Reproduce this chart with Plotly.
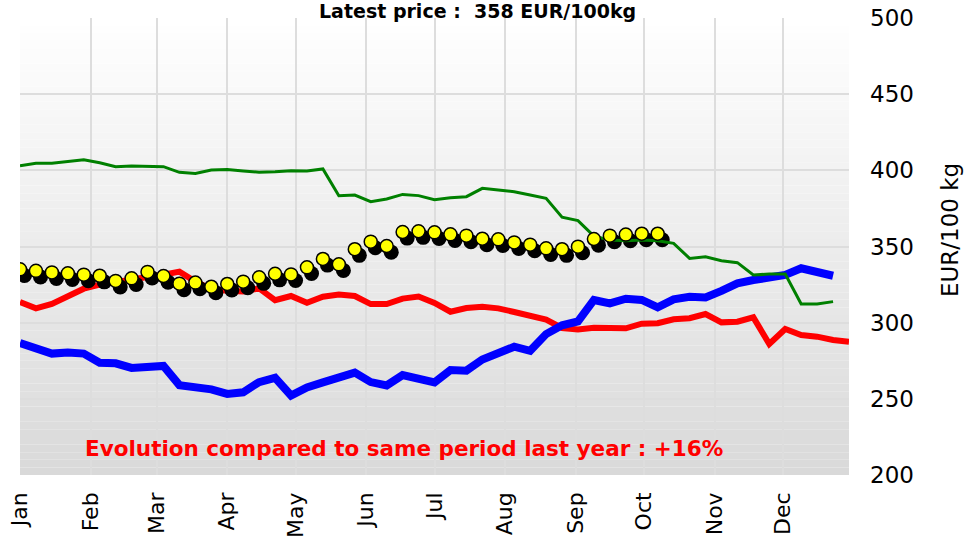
import datetime as dt
import plotly.graph_objects as go

# ---- data (weekly observations, week 1 starting 1 Jan) ----
start_date = "2024-01-01"
month_ticks = ["2024-01-01", "2024-02-01", "2024-03-01", "2024-04-01", "2024-05-01", "2024-06-01",
               "2024-07-01", "2024-08-01", "2024-09-01", "2024-10-01", "2024-11-01", "2024-12-01"]
month_labels = ["Jan", "Feb", "Mar", "Apr", "May", "Jun", "Jul", "Aug", "Sep", "Oct", "Nov", "Dec"]

current_year = [335, 334, 333, 332.4, 331.5, 330.8, 327.4, 329.1, 333.3, 330.6,
                325.6, 326.3, 323.6, 325.4, 326.9, 329.8, 332.1, 331.7, 336.3, 341.8,
                338.3, 348.2, 353.2, 350.3, 359.5, 360, 359.3, 358, 357.1, 355.1,
                354.7, 352.7, 351.2, 348.8, 348.2, 349.9, 354.9, 357.1, 357.8, 358.4,
                358.4]

last_year = [313.5, 309.4, 312.3, 316.8, 322.3, 325, 327, 328.5, 330, 331.5,
             333.5, 327, 322, 321, 320.5, 322.5, 314.8, 317.5, 313, 317,
             318.5, 317.5, 312.2, 312.2, 315.8, 317.2, 313, 307.2, 309.6, 310.5,
             309.4, 307, 304.7, 302, 296.5, 295.5, 296.7, 296.3, 296.3, 299.3,
             299.6, 302.2, 302.9, 305.7, 300.2, 300.6, 303.5, 286, 295.8, 291.9,
             290.8, 288.6, 287.5]

blue_year = [286.6, 283, 279.7, 280.4, 279.7, 273.7, 273.3, 270.3, 270.8, 271.6,
             259, 257.4, 256.2, 253.2, 254.3, 261, 263.8, 252.2, 257.5, 260.8,
             264.5, 267.2, 261, 258.8, 265.6, 263.8, 260.8, 268.9, 268.5, 275.8,
             280.5, 284.2, 281.5, 292.5, 298.3, 300.8, 314.9, 312.7, 315.7, 314.9,
             310.1, 315.3, 317, 316.6, 320.9, 325.8, 328, 329.5, 331.3, 335.7,
             333.9, 330.8]

green_year = [403, 404.6, 404.6, 406, 407, 405, 402.4, 402.8, 402.5, 402.4,
              398.7, 398, 400.2, 400.5, 399.6, 398.8, 399.1, 399.8, 399.6, 400.9,
              383.3, 383.8, 379.4, 381.2, 384.2, 383.4, 380.7, 382, 382.7, 388.2,
              387.1, 386, 383.8, 381.6, 369.2, 367, 356.8, 354.3, 353.8, 354.3,
              353.8, 352.1, 342.2, 343.3, 340.7, 339.4, 331.3, 331.9, 331.9, 312.3,
              312.3, 313.8]

title_text = "Latest price :  358 EUR/100kg"
note_text = "Evolution compared to same period last year : +16%"
y_title = "EUR/100 kg"

# ---- helpers ----
d0 = dt.date.fromisoformat(start_date)


def weeks(n):
    return [d0 + dt.timedelta(days=7 * i) for i in range(n)]


FONT = "DejaVu Sans"
fig = go.Figure()

fig.add_trace(go.Scatter(x=weeks(len(last_year)), y=last_year, mode="lines",
                         line=dict(color="#ff0000", width=6), hoverinfo="skip"))
fig.add_trace(go.Scatter(x=weeks(len(blue_year)), y=blue_year, mode="lines",
                         line=dict(color="#0000ff", width=8), hoverinfo="skip"))

# shadow of the current-year markers (offset down-right)
shadow_dx = dt.timedelta(hours=53)
shadow_dy = 4
fig.add_trace(go.Scatter(x=[d + shadow_dx for d in weeks(len(current_year))],
                         y=[v - shadow_dy for v in current_year], mode="markers",
                         marker=dict(color="#000000", size=15, line=dict(width=0)),
                         hoverinfo="skip"))
fig.add_trace(go.Scatter(x=weeks(len(green_year)), y=green_year, mode="lines",
                         line=dict(color="#008000", width=3), hoverinfo="skip"))
fig.add_trace(go.Scatter(x=weeks(len(current_year)), y=current_year, mode="markers",
                         marker=dict(color="#ffff00", size=13,
                                     line=dict(color="#000000", width=1.5)),
                         hoverinfo="skip"))

# vertical gradient background of the plot area
shapes = []
nb = 60
for k in range(nb):
    t = (k + 0.5) / nb  # 0 bottom .. 1 top
    c = int(round(217 + (255 - 217) * t))
    shapes.append(dict(type="rect", xref="paper", yref="paper", x0=0, x1=1,
                       y0=k / nb, y1=(k + 1) / nb, layer="below",
                       fillcolor=f"rgb({c},{c},{c})", line=dict(width=0)))

fig.update_layout(
    width=964, height=548,
    margin=dict(l=20, r=115, t=18, b=73, autoexpand=False),
    paper_bgcolor="#ffffff", plot_bgcolor="#ffffff",
    showlegend=False,
    shapes=shapes,
    font=dict(family=FONT, color="#000000"),
    xaxis=dict(range=["2024-01-01", "2024-12-30"], type="date",
               tickvals=month_ticks, ticktext=month_labels, tickangle=-90,
               tickfont=dict(size=22, family=FONT, color="#000000"),
               showgrid=True, gridcolor="#dddddd", gridwidth=1.5, automargin=False,
               zeroline=False, showline=False, ticks="", ticklabelstandoff=12),
    yaxis=dict(range=[200, 500], side="right", dtick=50, tick0=200,
               tickfont=dict(size=23, family=FONT, color="#000000"),
               showgrid=True, gridcolor="#dddddd", gridwidth=1.5, automargin=False,
               zeroline=False, showline=False, ticks="", ticklabelstandoff=20),
    annotations=[
        dict(text=f"<b>{title_text}</b>", xref="paper", yref="paper", x=0.552, y=1,
             xanchor="center", yanchor="bottom", yshift=-6, showarrow=False,
             font=dict(size=19, family=FONT, color="#000000")),
        dict(text=f"<b>{note_text}</b>", xref="paper", yref="paper", x=0.463, y=0.058,
             xanchor="center", yanchor="middle", showarrow=False,
             font=dict(size=21.5, family=FONT, color="#ff0000")),
        dict(text=y_title, xref="paper", yref="paper", x=1.1218, y=0.536,
             xanchor="center", yanchor="middle", textangle=-90, showarrow=False,
             font=dict(size=23, family=FONT, color="#000000")),
    ],
)

fig.write_html("out.html", config={"displayModeBar": False},
               post_script="document.body.style.margin='0';")
